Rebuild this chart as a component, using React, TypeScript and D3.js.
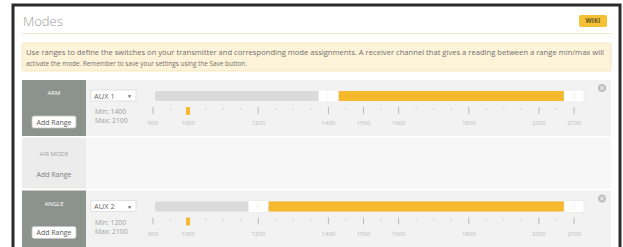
import React from "react";
import * as d3 from "d3";

// mode rows
const modeNames = ["ARM", "AIR MODE", "ANGLE"];
const modeChannels = ["AUX 1", null, "AUX 2"];
const rangeMins = [1400, null, 1200];
const rangeMaxs = [2100, null, 2100];
const tickLabels = [900, 1000, 1200, 1400, 1500, 1600, 1800, 2000, 2100];
const channelValue = 1000;

const noteLines = [
	"Use ranges to define the switches on your transmitter and corresponding mode assignments. A receiver channel that gives a reading between a range min/max will",
	"activate the mode. Remember to save your settings using the Save button.",
];

const W = 623,
	H = 247;
const rowTops = [80, 137.5, 190.5];
const rowHeights = [56, 51, 57];
const font = "'Open Sans', 'Noto Sans', sans-serif";

const x = d3.scaleLinear().domain([900, 2100]).range([153, 574]);
const pips = d3.range(900, 2101, 50);

const Row = ({ i }: { i: number }) => {
	const top = rowTops[i];
	const h = rowHeights[i];
	const active = modeChannels[i] !== null;
	const lo = rangeMins[i] as number;
	const hi = rangeMaxs[i] as number;
	return (
		<g>
			<rect x={22} y={top} width={64} height={h} fill={active ? "#8c928c" : "#ececec"} />
			<rect x={86} y={top} width={525} height={h} fill={active ? "#f2f2f2" : "#f7f7f7"} />
			<text
				x={54}
				y={top + (active ? 15 : 18)}
				textAnchor="middle"
				fontSize={6}
				fill={active ? "#ffffff" : "#a0a0a0"}
			>
				{modeNames[i]}
			</text>
			{active ? (
				<g>
					<rect x={32} y={top + 36} width={44} height={12} rx={2} fill="#fff" stroke="#c4c4c4" strokeWidth={0.8} />
					<text x={54} y={top + 44.5} textAnchor="middle" fontSize={7} fill="#5a5a5a">
						Add Range
					</text>
				</g>
			) : (
				<text x={54} y={top + 39} textAnchor="middle" fontSize={7} fill="#808080">
					Add Range
				</text>
			)}
			{active && (
				<g>
					<rect x={91} y={top + 10} width={45} height={11} fill="#fff" stroke="#dcdcdc" strokeWidth={0.8} />
					<text x={94} y={top + 18.5} fontSize={7.5} fill="#666">
						{modeChannels[i]}
					</text>
					<text x={127} y={top + 18} fontSize={5} fill="#666">
						▼
					</text>
					<text x={95} y={top + 34} fontSize={6.8} fill="#a0a0a0">
						{"Min: " + lo}
					</text>
					<text x={95} y={top + 43} fontSize={6.8} fill="#a0a0a0">
						{"Max: " + hi}
					</text>
					<rect x={155} y={top + 11} width={428} height={10} rx={2} fill="#dadada" />
					<rect x={x(lo) + 10} y={top + 11} width={x(hi) - x(lo) - 20} height={10} fill="#f6b82d" />
					{[lo, hi].map((v) => (
						<g key={v}>
							<rect x={x(v) - 10} y={top + 10} width={20} height={12} rx={1} fill="#fff" stroke="#e6e6e6" strokeWidth={0.6} />
							<line x1={x(v) - 1} x2={x(v) - 1} y1={top + 13} y2={top + 19} stroke="#eee" strokeWidth={0.6} />
							<line x1={x(v) + 1} x2={x(v) + 1} y1={top + 13} y2={top + 19} stroke="#eee" strokeWidth={0.6} />
						</g>
					))}
					{pips.map((v) => {
						const major = tickLabels.includes(v);
						return (
							<line
								key={v}
								x1={x(v)}
								x2={x(v)}
								y1={top + (major ? 27 : 28)}
								y2={top + (major ? 34 : 30)}
								stroke={major ? "#ababab" : "#cccccc"}
								strokeWidth={0.8}
							/>
						);
					})}
					{tickLabels.map((v) => (
						<text key={v} x={x(v)} y={top + 45} textAnchor="middle" fontSize={6} fill="#bababa">
							{v}
						</text>
					))}
					<rect x={x(channelValue) - 2} y={top + 27} width={4} height={8} rx={1} fill="#f6b82d" />
					<circle cx={602} cy={top + 8} r={4} fill="#bdbdbd" />
					<path
						d={`M${600} ${top + 6}L${604} ${top + 10}M${604} ${top + 6}L${600} ${top + 10}`}
						stroke="#fff"
						strokeWidth={0.9}
					/>
				</g>
			)}
		</g>
	);
};

const App = () => {
	return (
		<div style={{ position: "fixed", left: 0, top: 0 }}>
			<svg width={W} height={H} fontFamily={font} style={{ display: "block" }}>
				<rect width={W} height={H} fill="#fff" />
				<rect x={13} y={5} width={607} height={260} fill="#fff" stroke="#2b2b2b" strokeWidth={3} />
				<text x={23} y={26} fontSize={13} fill="#9a9a9a" fontWeight={300}>
					Modes
				</text>
				<line x1={22} x2={611} y1={33.5} y2={33.5} stroke="#f1e8cf" strokeWidth={1} />
				<rect x={579} y={15} width={28} height={12} rx={2} fill="#f4c034" />
				<text x={593} y={23.3} textAnchor="middle" fontSize={6.5} fontWeight="bold" fill="#6b5a1e">
					WIKI
				</text>
				<rect x={22} y={43} width={589} height={28} rx={2} fill="#fdf3d8" stroke="#f3e3b3" strokeWidth={0.8} />
				{noteLines.map((t, i) => (
					<text
						key={i}
						x={26}
						y={55 + i * 11}
						fontSize={6.4}
						fill="#707070"
						textLength={i === 0 ? 578 : undefined}
						lengthAdjust="spacingAndGlyphs"
					>
						{t}
					</text>
				))}
				{modeNames.map((_, i) => (
					<Row key={i} i={i} />
				))}
			</svg>
		</div>
	);
};

export default App;
